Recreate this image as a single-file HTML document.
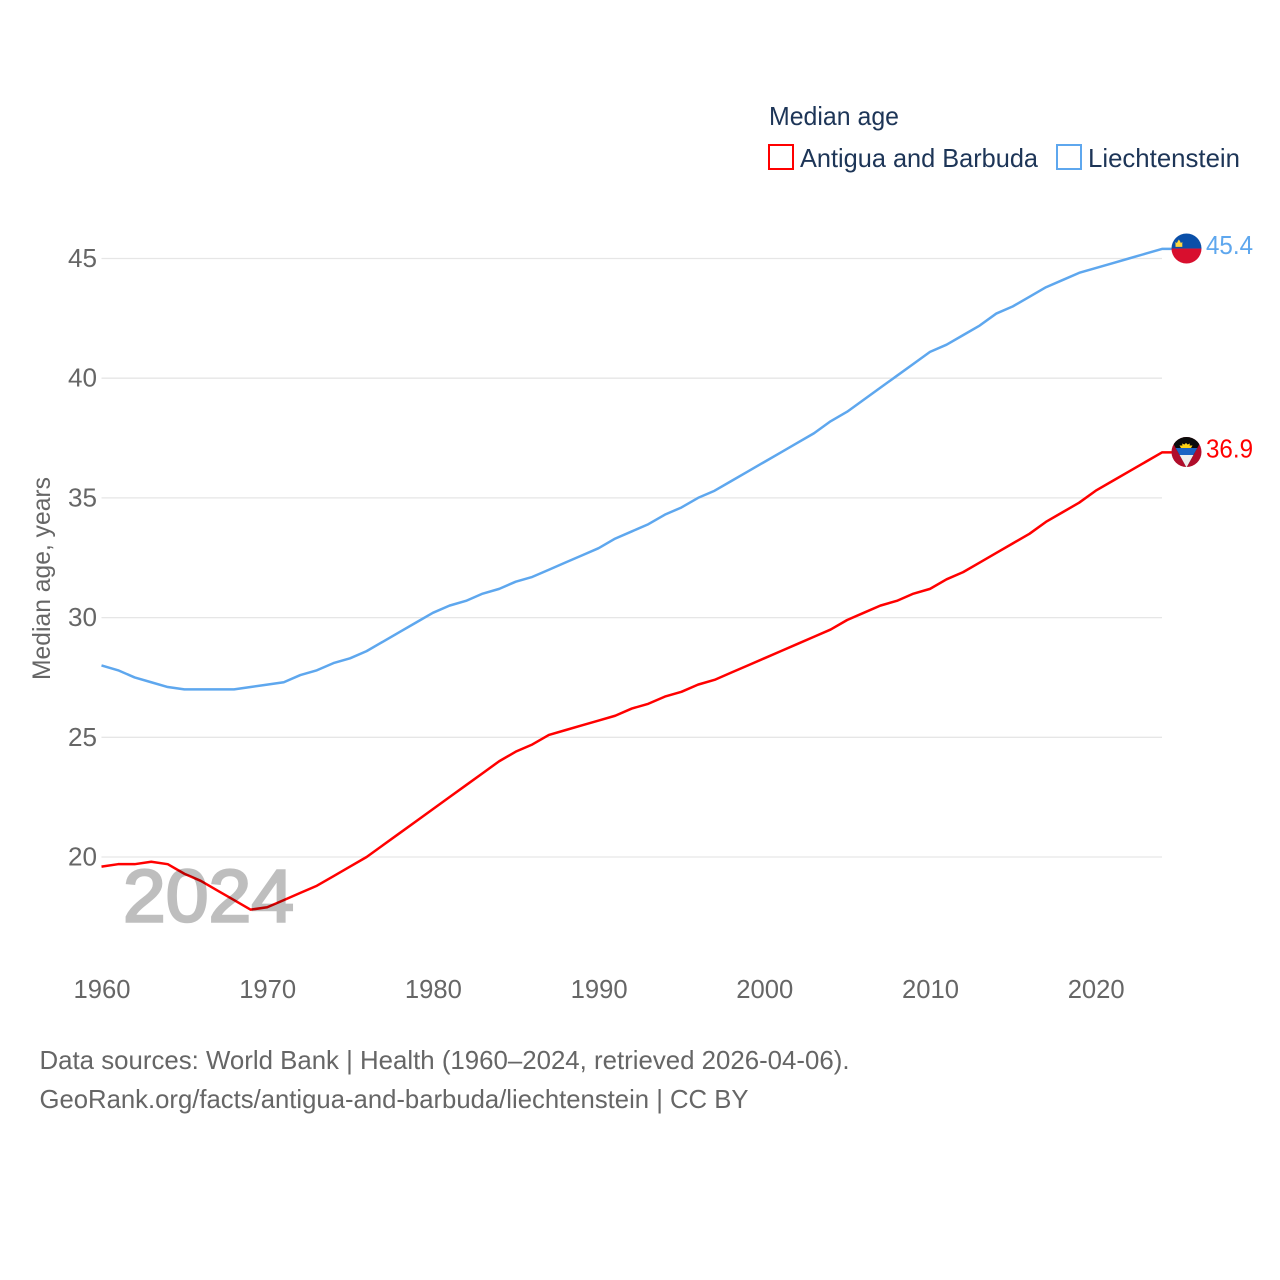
<!DOCTYPE html>
<html lang="en">
<head>
<meta charset="utf-8">
<title>Median age: Antigua and Barbuda vs Liechtenstein</title>
<style>
html,body{margin:0;padding:0;background:#fff;}
svg{display:block;}
text{font-family:"Liberation Sans",sans-serif;}
</style>
</head>
<body>
<svg id="chart" xmlns="http://www.w3.org/2000/svg" width="1280" height="1280" viewBox="0 0 1280 1280">
  <defs>
    <clipPath id="flag-clip"><circle cx="0" cy="0" r="15"></circle></clipPath>
  </defs>
  <rect width="1280" height="1280" fill="#fff"></rect>

  <g>
    <text x="769" y="125" font-size="26" fill="#1d3557" textLength="130" lengthAdjust="spacingAndGlyphs">Median age</text>
    <g>
      <rect x="769" y="145" width="24" height="24" fill="#fff" stroke="#ff0000" stroke-width="2"></rect>
      <text x="800" y="167" font-size="26" fill="#1d3557" textLength="238" lengthAdjust="spacingAndGlyphs">Antigua and Barbuda</text>
    </g>
    <g>
      <rect x="1057" y="145" width="24" height="24" fill="#fff" stroke="#5ea7ee" stroke-width="2"></rect>
      <text x="1088" y="167" font-size="26" fill="#1d3557" textLength="152" lengthAdjust="spacingAndGlyphs">Liechtenstein</text>
    </g>
  </g>

  <g id="grid"></g>
  <g id="y-axis"></g>
  <g id="x-axis"></g>
  <text transform="translate(50 680) rotate(-90)" x="0" y="0" font-size="25" fill="#666" textLength="203" lengthAdjust="spacingAndGlyphs">Median age, years</text>

  <g id="series"></g>

  <g id="flag-liechtenstein">
    <g clip-path="url(#flag-clip)">
      <rect x="-15" y="-15" width="30" height="15" fill="#0a4fa8"></rect>
      <rect x="-15" y="0" width="30" height="15" fill="#d80f2e"></rect>
      <path d="M-11 -1.6H-4.2V-6.6L-5.6 -5.4L-6.4 -7.2L-7.6 -9L-8.8 -7.2L-9.6 -5.4L-11 -6.6Z" fill="#ffd83d"></path>
    </g>
  </g>
  <g id="flag-antigua">
    <g clip-path="url(#flag-clip)">
      <rect x="-15" y="-16" width="30" height="32" fill="#b00d2b"></rect>
      <path d="M-15 -16H15V-11.6L0 15.5L-15 -11.6Z" fill="#0b0b0b"></path>
      <path d="M-10.8 -4H10.8L6.9 3H-6.9Z" fill="#1a63c4"></path>
      <path d="M-6.9 3H6.9L0 15.5Z" fill="#eeeeee"></path>
      <path d="M-5.5 -4L-7 -6.5L-4 -6.5L-4.5 -8.5L-2 -7.5L-0.5 -9.2L1 -7.5L3.5 -8.5L3 -6.5L6 -6.5L4.5 -4Z" fill="#fcd116"></path>
    </g>
  </g>
  <text id="label-liechtenstein" x="1206" font-size="26" fill="#5ea7ee" textLength="47" lengthAdjust="spacingAndGlyphs"></text>
  <text id="label-antigua" x="1206" font-size="26" fill="#ff0000" textLength="47" lengthAdjust="spacingAndGlyphs"></text>

  <text x="123" y="921.5" font-size="74" fill="#000" stroke="#000" stroke-width="2.5" opacity="0.25" textLength="171" lengthAdjust="spacingAndGlyphs">2024</text>

  <g>
    <text x="39.5" y="1069" font-size="26" fill="#666" textLength="810" lengthAdjust="spacingAndGlyphs">Data sources: World Bank | Health (1960–2024, retrieved 2026-04-06).</text>
    <text x="39.5" y="1108" font-size="26" fill="#666" textLength="709" lengthAdjust="spacingAndGlyphs">GeoRank.org/facts/antigua-and-barbuda/liechtenstein | CC BY</text>
  </g>
</svg>

<script>
const firstYear = 1960;
const antiguaValues = [19.6,19.7,19.7,19.8,19.7,19.3,19.0,18.6,18.2,17.8,17.9,18.2,18.5,18.8,19.2,19.6,20.0,20.5,21.0,21.5,22.0,22.5,23.0,23.5,24.0,24.4,24.7,25.1,25.3,25.5,25.7,25.9,26.2,26.4,26.7,26.9,27.2,27.4,27.7,28.0,28.3,28.6,28.9,29.2,29.5,29.9,30.2,30.5,30.7,31.0,31.2,31.6,31.9,32.3,32.7,33.1,33.5,34.0,34.4,34.8,35.3,35.7,36.1,36.5,36.9];
const liechtensteinValues = [28.0,27.8,27.5,27.3,27.1,27.0,27.0,27.0,27.0,27.1,27.2,27.3,27.6,27.8,28.1,28.3,28.6,29.0,29.4,29.8,30.2,30.5,30.7,31.0,31.2,31.5,31.7,32.0,32.3,32.6,32.9,33.3,33.6,33.9,34.3,34.6,35.0,35.3,35.7,36.1,36.5,36.9,37.3,37.7,38.2,38.6,39.1,39.6,40.1,40.6,41.1,41.4,41.8,42.2,42.7,43.0,43.4,43.8,44.1,44.4,44.6,44.8,45.0,45.2,45.4];
const yTicks = [20,25,30,35,40,45];
const xTicks = [1960,1970,1980,1990,2000,2010,2020];

const SVGNS = 'http://www.w3.org/2000/svg';
const plotLeft = 101.5, plotRight = 1162, flagX = 1186.5;
function xScale(year) { return plotLeft + (year - 1960) * 16.57; }
function yScale(value) { return 857 - (value - 20) * 23.94; }
function make(tag, attrs, parent) {
  const el = document.createElementNS(SVGNS, tag);
  for (const k in attrs) el.setAttribute(k, attrs[k]);
  parent.appendChild(el);
  return el;
}

const gridGroup = document.getElementById('grid');
const yGroup = document.getElementById('y-axis');
const xGroup = document.getElementById('x-axis');
const seriesGroup = document.getElementById('series');

yTicks.forEach(function (t) {
  const line = make('line', {x1: plotLeft, x2: plotRight, y1: yScale(t), y2: yScale(t), stroke: '#e6e6e6', 'stroke-width': 1.3}, gridGroup);
  
  
  const label = make('text', {x: 97, y: yScale(t) + 8.5, 'text-anchor': 'end', 'font-size': 26, fill: '#666', textLength: 29, lengthAdjust: 'spacingAndGlyphs'}, yGroup);
  label.textContent = t;
  
  
});

xTicks.forEach(function (t) {
  const label = make('text', {x: xScale(t) + 0.5, y: 998, 'text-anchor': 'middle', 'font-size': 26, fill: '#666', textLength: 57, lengthAdjust: 'spacingAndGlyphs'}, xGroup);
  label.textContent = t;
  
  
});

function drawSeries(values, color) {
  const pts = values.map(function (v, i) { return xScale(firstYear + i).toFixed(2) + ',' + yScale(v).toFixed(2); });
  const last = values[values.length - 1];
  const lastX = xScale(firstYear + values.length - 1);
  pts.push((lastX + 12).toFixed(2) + ',' + yScale(last).toFixed(2));
  return make('polyline', {points: pts.join(' '), fill: 'none', stroke: color, 'stroke-width': 2.5, 'stroke-linejoin': 'round'}, seriesGroup);
}
const lineLi = drawSeries(liechtensteinValues, '#5ea7ee');


const lineAg = drawSeries(antiguaValues, '#ff0000');



function placeEnd(flagId, labelId, values) {
  const v = values[values.length - 1];
  document.getElementById(flagId).setAttribute('transform', 'translate(' + flagX + ' ' + (yScale(v) - 0.4) + ')');
  const label = document.getElementById(labelId);
  label.setAttribute('y', yScale(v) + 5);
  label.textContent = v.toFixed(1);
}
placeEnd('flag-liechtenstein', 'label-liechtenstein', liechtensteinValues);
placeEnd('flag-antigua', 'label-antigua', antiguaValues);
</script>
</body>
</html>
